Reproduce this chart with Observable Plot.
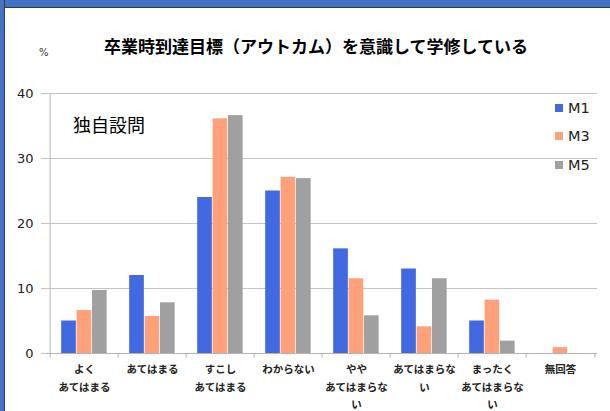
<!DOCTYPE html>
<html>
<head>
<meta charset="utf-8">
<script src="https://cdn.jsdelivr.net/npm/d3@7"></script>
<script src="https://cdn.jsdelivr.net/npm/@observablehq/plot@0.6"></script>
<style>
  html, body { margin: 0; padding: 0; }
  #wrap { position: relative; width: 610px; height: 411px; background: #fff; overflow: hidden; }
  #topbar { position: absolute; left: 0; top: 0; width: 610px; height: 7px; background: #4472C4; border-bottom: 1px solid #2f3b52; z-index: 5; }
  #leftbar { position: absolute; left: 0; top: 0; width: 4px; height: 411px; background: #4472C4; border-right: 1px solid #2f3b52; z-index: 5; }
  .txt { position: absolute; font-family: "Noto Sans CJK JP", sans-serif; color: #000; white-space: nowrap; }
  #title { left: 316px; top: 44.5px; transform: translate(-50%, -50%); font-size: 17px; font-weight: bold; }
  #pct { left: 39px; top: 52px; transform: translateY(-50%); font-size: 10px; font-family: "DejaVu Sans", sans-serif; color: #333; }
  #note { left: 73px; top: 124px; transform: translateY(-50%); font-size: 18px; }
  #chart { position: absolute; left: 0; top: 0; }
  .leg { position: absolute; left: 555px; display: flex; align-items: center; font-family: "DejaVu Sans", sans-serif; font-size: 14.5px; color: #222; transform: translateY(-50%); }
  .leg span.sw { display: inline-block; width: 8px; height: 8px; margin-right: 5px; }
</style>
</head>
<body>
<div id="wrap">
  <div id="chart"></div>
  <div id="topbar"></div>
  <div id="leftbar"></div>
  <div class="txt" id="title">卒業時到達目標（アウトカム）を意識して学修している</div>
  <div class="txt" id="pct">%</div>
  <div class="txt" id="note">独自設問</div>
  <div id="legend"></div>
</div>
<script>
const categories = ["よくあてはまる", "あてはまる", "すこしあてはまる", "わからない", "ややあてはまらない", "あてはまらない", "まったくあてはまらない", "無回答"];
const categoryLabels = ["よく\nあてはまる", "あてはまる", "すこし\nあてはまる", "わからない", "やや\nあてはまらな\nい", "あてはまらな\nい", "まったく\nあてはまらな\nい", "無回答"];
const seriesNames = ["M1", "M3", "M5"];
const seriesColors = ["#4169E1", "#FFA07A", "#A0A0A0"];
const M1 = [5.0, 12.0, 24.0, 25.0, 16.1, 13.0, 5.0, 0];
const M3 = [6.6, 5.7, 36.1, 27.1, 11.5, 4.1, 8.2, 0.9];
const M5 = [9.7, 7.8, 36.6, 26.9, 5.8, 11.5, 1.9, 0];
const yTicks = [0, 10, 20, 30, 40];

const seriesValues = [M1, M3, M5];
const data = [];
seriesNames.forEach((s, k) => categories.forEach((c, i) => data.push({cat: c, series: s, value: seriesValues[k][i]})));
const labelOf = new Map(categories.map((c, i) => [c, categoryLabels[i]]));

const W = 610, H = 411, mL = 47, mR = 13, mT = 93, mB = 58;
const bw = (W - mL - mR) / categories.length;
const barW = 15.4, pad = 11.2;
const grid = "#c4c4c4";

const barMarks = seriesNames.map((s, k) => Plot.barY(data.filter(d => d.series === s), {
  x: "cat", y: "value", fill: seriesColors[k],
  insetLeft: pad + k * barW, insetRight: bw - pad - (k + 1) * barW
}));

const chart = Plot.plot({
  width: W, height: H,
  marginLeft: mL, marginRight: mR, marginTop: mT, marginBottom: mB,
  style: {background: "transparent", overflow: "visible"},
  x: {domain: categories, padding: 0, axis: null, label: null},
  y: {domain: [0, 40], axis: null, label: null},
  marks: [
    Plot.gridY(yTicks, {stroke: grid, strokeOpacity: 1}),
    Plot.axisY(yTicks, {tickSize: 6, tickPadding: 8, stroke: grid, strokeOpacity: 1, label: null,
      fontSize: 13, fontFamily: "DejaVu Sans", fill: "#222"}),
    ...barMarks,
    Plot.ruleY([0], {stroke: "#b4b4b4"}),
    Plot.ruleX([categories[0]], {dx: -bw / 2, y1: 0, y2: 40, stroke: "#b4b4b4"}),
    Plot.ruleX(categories, {x: d => d, dx: -bw / 2, y1: 0, y2: -0.7, stroke: "#b4b4b4"}),
    Plot.ruleX([categories[categories.length - 1]], {dx: bw / 2, y1: 0, y2: -0.7, stroke: "#b4b4b4"}),
    Plot.axisX({tickSize: 0, tickPadding: 7, tickFormat: d => labelOf.get(d), label: null,
      fontSize: 10.5, fontWeight: "bold", fontFamily: "Noto Sans CJK JP", lineHeight: 1.68, fill: "#222"})
  ]
});
document.getElementById("chart").appendChild(chart);

const legTops = [107.5, 136, 165];
const legend = document.getElementById("legend");
seriesNames.forEach((s, k) => {
  const el = document.createElement("div");
  el.className = "leg";
  el.style.top = legTops[k] + "px";
  el.innerHTML = `<span class="sw" style="background:${seriesColors[k]}"></span>${s}`;
  legend.appendChild(el);
});
</script>
</body>
</html>
